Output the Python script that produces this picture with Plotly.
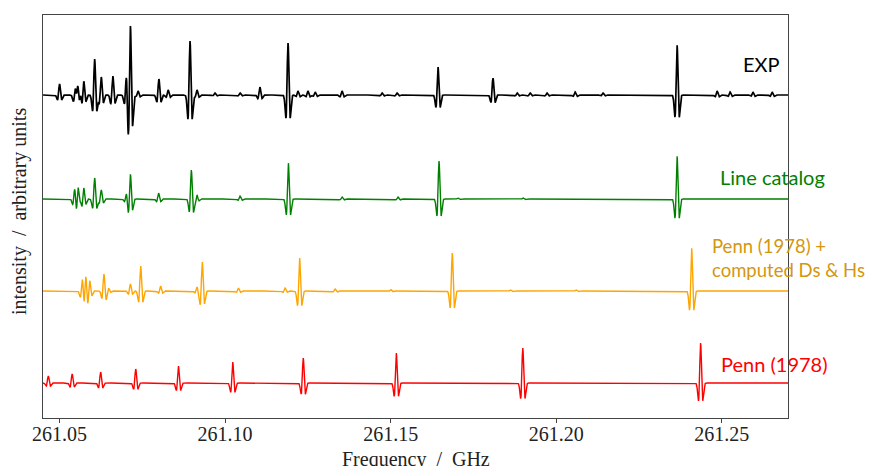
import numpy as np
import plotly.graph_objects as go

# Line lists: centre frequency (GHz) and peak intensity (arbitrary units)
exp_freq = [261.0500, 261.0548, 261.0555, 261.0563, 261.0573, 261.0606, 261.0626,
            261.0661, 261.0702, 261.0714, 261.0737, 261.0800, 261.0828, 261.0894,
            261.0915, 261.0969, 261.1045, 261.1105, 261.1190, 261.1220, 261.1250,
            261.1272, 261.1353, 261.1474, 261.1519, 261.1643, 261.1809, 261.1882,
            261.1921, 261.1972, 261.2057, 261.2141, 261.2365, 261.2486, 261.2525,
            261.2594, 261.2652]
exp_int = [11, 14, 18, 8, 15, 36, 18,
           19, 20, 70, 4, 16, 5, 54,
           5, 2, 2, 8, 52, 4, 4,
           3, 4, 2, 2, 28, 17, 2,
           2, 2, 3, 2, 50, 4, 3,
           3, 3]

catalog_freq = [261.0546, 261.0556, 261.0563, 261.0573, 261.0606, 261.0626, 261.0702,
                261.0714, 261.0799, 261.0898, 261.0915, 261.1045, 261.1191, 261.1353,
                261.1522, 261.1646, 261.1703, 261.1900, 261.2365]
catalog_int = [12, 16, 6, 12, 21, 9, 6,
               25, 6, 29, 4, 3, 36, 2,
               2, 38, 1, 1, 43]

penn_ds_freq = [261.0569, 261.0579, 261.0591, 261.0634, 261.0648, 261.0714, 261.0745,
                261.0805, 261.0915, 261.0931, 261.1040, 261.1181, 261.1225, 261.1332,
                261.1500, 261.1686, 261.1862, 261.2060, 261.2409]
penn_ds_int = [14, 17, 11, 17, 3, 7, 25,
               5, 4, 29, 3, 3, 33, 2,
               1.5, 38, 1, 1, 43]

penn_freq = [261.0466, 261.0538, 261.0624, 261.0730, 261.0859, 261.1023, 261.1236,
             261.1517, 261.1899, 261.2436]
penn_int = [7, 9, 11, 14, 17, 21, 25, 30, 35, 40]

tick_vals = [261.05, 261.10, 261.15, 261.20, 261.25]
tick_text = ["261.05", "261.10", "261.15", "261.20", "261.25"]

# Frequency grid and second-derivative Gaussian line profile
f_min, f_max = 261.045, 261.27
sigma = 0.00037
freq = np.arange(f_min, f_max + 1e-9, 0.00004)


def spectrum(centres, heights):
    y = np.zeros_like(freq)
    for f0, a in zip(centres, heights):
        u = (freq - f0) / sigma
        y += a * (1.0 - u * u) * np.exp(-0.5 * u * u)
    return y


traces = [
    (exp_freq, exp_int, 323, "black", 1.7),
    (catalog_freq, catalog_int, 219, "green", 1.4),
    (penn_ds_freq, penn_ds_int, 127, "orange", 1.4),
    (penn_freq, penn_int, 35, "red", 1.4),
]

fig = go.Figure()
for centres, heights, base, colour, w in traces:
    fig.add_trace(go.Scatter(
        x=freq, y=base + spectrum(centres, heights), mode="lines",
        line=dict(color=colour, width=w), showlegend=False, hoverinfo="skip"))

serif = "Liberation Serif"
sans = "Lato"

fig.update_layout(
    width=875, height=466,
    margin=dict(l=43, r=87, t=15, b=48),
    plot_bgcolor="white", paper_bgcolor="white",
    xaxis=dict(
        range=[f_min, f_max], tickvals=tick_vals, ticktext=tick_text,
        ticks="outside", ticklen=4, tickwidth=1.2, tickcolor="#444",
        tickfont=dict(family=serif, size=20, color="#222"),
        ticklabelstandoff=-6,
        showgrid=False, zeroline=False,
        showline=True, linecolor="#444", linewidth=1.3, mirror=True,
        automargin=False,
    ),
    yaxis=dict(
        range=[0, 403], showticklabels=False, ticks="",
        showgrid=False, zeroline=False,
        showline=True, linecolor="#444", linewidth=1.3, mirror=True,
        automargin=False,
    ),
)

# Axis titles
fig.add_annotation(
    text="Frequency  /  GHz", xref="paper", yref="paper",
    x=0.5, y=(418 - 459) / 403, xanchor="center", yanchor="middle",
    showarrow=False, font=dict(family=serif, size=20, color="#222"))
fig.add_annotation(
    text="intensity  /  arbitrary units", xref="paper", yref="paper",
    x=(20 - 43) / 745, y=(418 - 212) / 403, xanchor="center", yanchor="middle",
    textangle=-90, showarrow=False, font=dict(family=serif, size=20, color="#222"))

# Series labels
labels = [
    ("EXP", 741, 64, "black", 20),
    ("Line catalog", 718, 177, "green", 20),
    ("Penn (1978) +<br>computed Ds &amp; Hs", 710, 258, "#D4960F", 18.5),
    ("Penn (1978)", 719, 364, "red", 20),
]
for text, px, py, colour, size in labels:
    fig.add_annotation(
        text=text, xref="paper", yref="paper",
        x=(px - 43) / 745, y=(418 - py) / 403,
        xanchor="left", yanchor="middle", align="left", showarrow=False,
        font=dict(family=sans, size=size, color=colour))

fig.write_html("out.html")
